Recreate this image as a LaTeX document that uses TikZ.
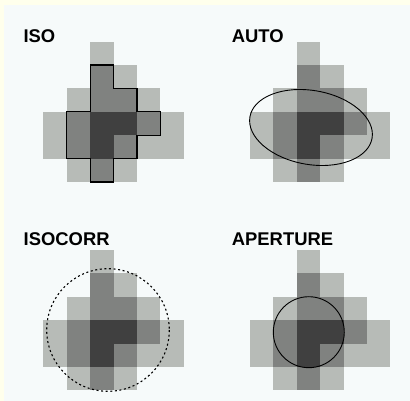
\documentclass[tikz,border=0pt]{standalone}
\usepackage{fontspec}
\setmainfont{Liberation Sans}
\usepackage{xcolor}
\definecolor{pixlight}{RGB}{183,187,183}
\definecolor{pixmid}{RGB}{128,130,128}
\definecolor{pixdark}{RGB}{64,64,64}
\definecolor{panelbg}{RGB}{246,250,250}
\definecolor{edgebg}{RGB}{255,255,236}

% one copy of the pixel stamp, origin at its top left corner
\newcommand{\pixstamp}[2]{%
  \begin{scope}[shift={(#1,#2)}, x=23.4pt, y=-23.4pt]
    \foreach \c/\r/\s in {2/0/pixlight,
        2/1/pixmid, 3/1/pixlight,
        1/2/pixlight, 2/2/pixmid, 3/2/pixmid, 4/2/pixlight,
        0/3/pixlight, 1/3/pixmid, 2/3/pixdark, 3/3/pixdark, 4/3/pixmid, 5/3/pixlight,
        0/4/pixlight, 1/4/pixmid, 2/4/pixdark, 3/4/pixmid, 4/4/pixlight, 5/4/pixlight,
        1/5/pixlight, 2/5/pixmid, 3/5/pixlight}
      \fill[\s] (\c,\r) rectangle ++(1,1);
  \end{scope}}

\begin{document}
\begin{tikzpicture}[x=1pt, y=-1pt,
    paneltitle/.style={anchor=base west, inner sep=0pt,
      font=\fontsize{18.4}{20}\selectfont\bfseries}]
    % Background
    \fill[edgebg] (0,0) rectangle (410,401);
    \fill[panelbg] (4,5) rectangle (410,401);
    \useasboundingbox (0,0) rectangle (410,401);

    % Pixel stamps
    \foreach \ox/\oy in {43.3/41.7, 250/41.7, 43.3/250, 250/250}
      \pixstamp{\ox}{\oy};

    % Panel titles
    \node[paneltitle] (tiso) at (23.3,42.3) {ISO};
    \node[paneltitle] (tauto) at (231.7,42.3) {AUTO};
    \node[paneltitle] (tisocorr) at (23.5,245) {ISOCORR};
    \node[paneltitle] (taperture) at (231.7,245) {APERTURE};

    % ISO: isophote outline
    \begin{scope}[shift={(43.3,41.7)}, x=23.4pt, y=-23.4pt]
      \draw[line width=1.2pt, line join=miter] (2,1) -- (3,1) -- (3,2) -- (4,2) -- (4,3) -- (5,3)
        -- (5,4) -- (4,4) -- (4,5) -- (3,5) -- (3,6) -- (2,6) -- (2,5) -- (1,5)
        -- (1,3) -- (2,3) -- cycle;
    \end{scope}

    % AUTO: tilted ellipse
    \draw[line width=0.9pt, rotate around={-10:(311,127.5)}]
      (311,127.5) ellipse [x radius=62, y radius=37];

    % ISOCORR: dotted circle
    \draw[line width=1.1pt, dash pattern=on 2pt off 2.6pt] (108,330) circle [radius=61.3];

    % APERTURE: fixed circle
    \draw[line width=0.9pt] (308.8,332.2) circle [radius=35.5];
\end{tikzpicture}
\end{document}
